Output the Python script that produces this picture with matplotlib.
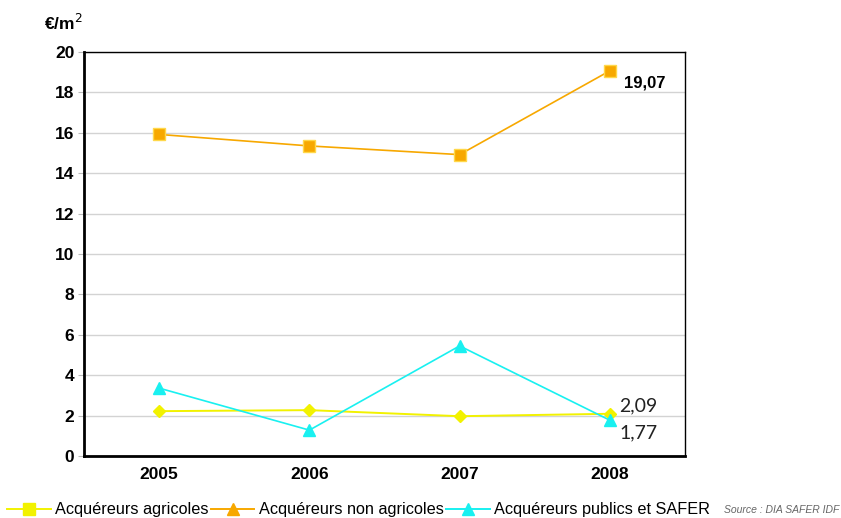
import matplotlib
matplotlib.use("Agg")
import matplotlib.pyplot as plt
from matplotlib.lines import Line2D

# ── Data: prix moyen (€/m²) par type d'acquéreur ─────────────
years = ["2005", "2006", "2007", "2008"]
agricoles = [2.22, 2.27, 1.97, 2.09]
non_agricoles = [15.92, 15.35, 14.92, 19.07]
publics_safer = [3.36, 1.28, 5.45, 1.77]
series_names = ["Acquéreurs agricoles", "Acquéreurs non agricoles",
                "Acquéreurs publics et SAFER"]

# ── Colours ──────────────────────────────────────────────────
YELLOW = '#F2F200'
ORANGE = '#F7A800'
CYAN = '#19F0F0'
GRID = '#D3D3D3'

plt.rcParams['font.family'] = ['Liberation Sans', 'DejaVu Sans']

fig = plt.figure(figsize=(8.41, 5.18), dpi=100, facecolor='white')
ax = fig.add_axes([0.0999, 0.1197, 0.7146, 0.7799])

x = [i + 0.5 for i in range(len(years))]

ax.plot(x, non_agricoles, color=ORANGE, lw=1.2, marker='s', ms=8,
        mfc=ORANGE, mec='#FFD84A', mew=1.0, zorder=3)
ax.plot(x, agricoles, color=YELLOW, lw=1.4, marker='D', ms=6.5,
        mfc=YELLOW, mec=YELLOW, zorder=3)
ax.plot(x, publics_safer, color=CYAN, lw=1.2, marker='^', ms=8.5,
        mfc=CYAN, mec=CYAN, zorder=4)

ax.set_xlim(0, 4)
ax.set_ylim(0, 20)
ax.set_yticks(range(0, 21, 2))
ax.set_xticks(x)
ax.set_xticklabels(years)
ax.grid(axis='y', color=GRID, lw=1.0)
ax.set_axisbelow(True)
ax.tick_params(axis='x', length=0, pad=8, labelsize=12.5)
ax.tick_params(axis='y', length=4, color='#BBBBBB', pad=3, labelsize=12.5)
for lbl in ax.get_xticklabels() + ax.get_yticklabels():
    lbl.set_fontweight('bold')

for side, sp in ax.spines.items():
    sp.set_color('black')
    sp.set_linewidth(2.0 if side in ('left', 'bottom') else 1.0)

fig.text(0.075, 0.955, "€/m$^{2}$", fontsize=12.5, fontweight='bold',
         ha='center', va='center')

# ── Value labels on 2008 ─────────────────────────────────────
ax.annotate(f"{non_agricoles[-1]:.2f}".replace('.', ','),
            xy=(x[-1], non_agricoles[-1]), xytext=(10, -9),
            textcoords='offset points', fontsize=12, fontweight='bold',
            ha='left', va='center')
ax.annotate(f"{agricoles[-1]:.2f}".replace('.', ','),
            xy=(x[-1], agricoles[-1]), xytext=(7, 6),
            textcoords='offset points', fontsize=14, family=['Lato', 'DejaVu Sans'],
            color='#222222', ha='left', va='center')
ax.annotate(f"{publics_safer[-1]:.2f}".replace('.', ','),
            xy=(x[-1], publics_safer[-1]), xytext=(7, -9),
            textcoords='offset points', fontsize=14, family=['Lato', 'DejaVu Sans'],
            color='#222222', ha='left', va='center')

# ── Legend (marker styles as shown in the original key) ──────
handles = [
    Line2D([], [], color=YELLOW, lw=1.4, marker='s', ms=8, mfc=YELLOW, mec=YELLOW),
    Line2D([], [], color=ORANGE, lw=1.4, marker='^', ms=8, mfc=ORANGE, mec=ORANGE),
    Line2D([], [], color=CYAN, lw=1.4, marker='^', ms=8, mfc=CYAN, mec=CYAN),
]
fig.legend(handles, series_names, loc='center left', bbox_to_anchor=(0.008, 0.016),
           ncol=3, frameon=False, fontsize=11.7, handlelength=2.7,
           handletextpad=0.25, columnspacing=0.15, borderpad=0, borderaxespad=0)

fig.text(0.998, 0.016, "Source : DIA SAFER IDF", fontsize=7.5, style='italic',
         color='#666666', ha='right', va='center')

fig.savefig("out.png", dpi=100, facecolor='white')
